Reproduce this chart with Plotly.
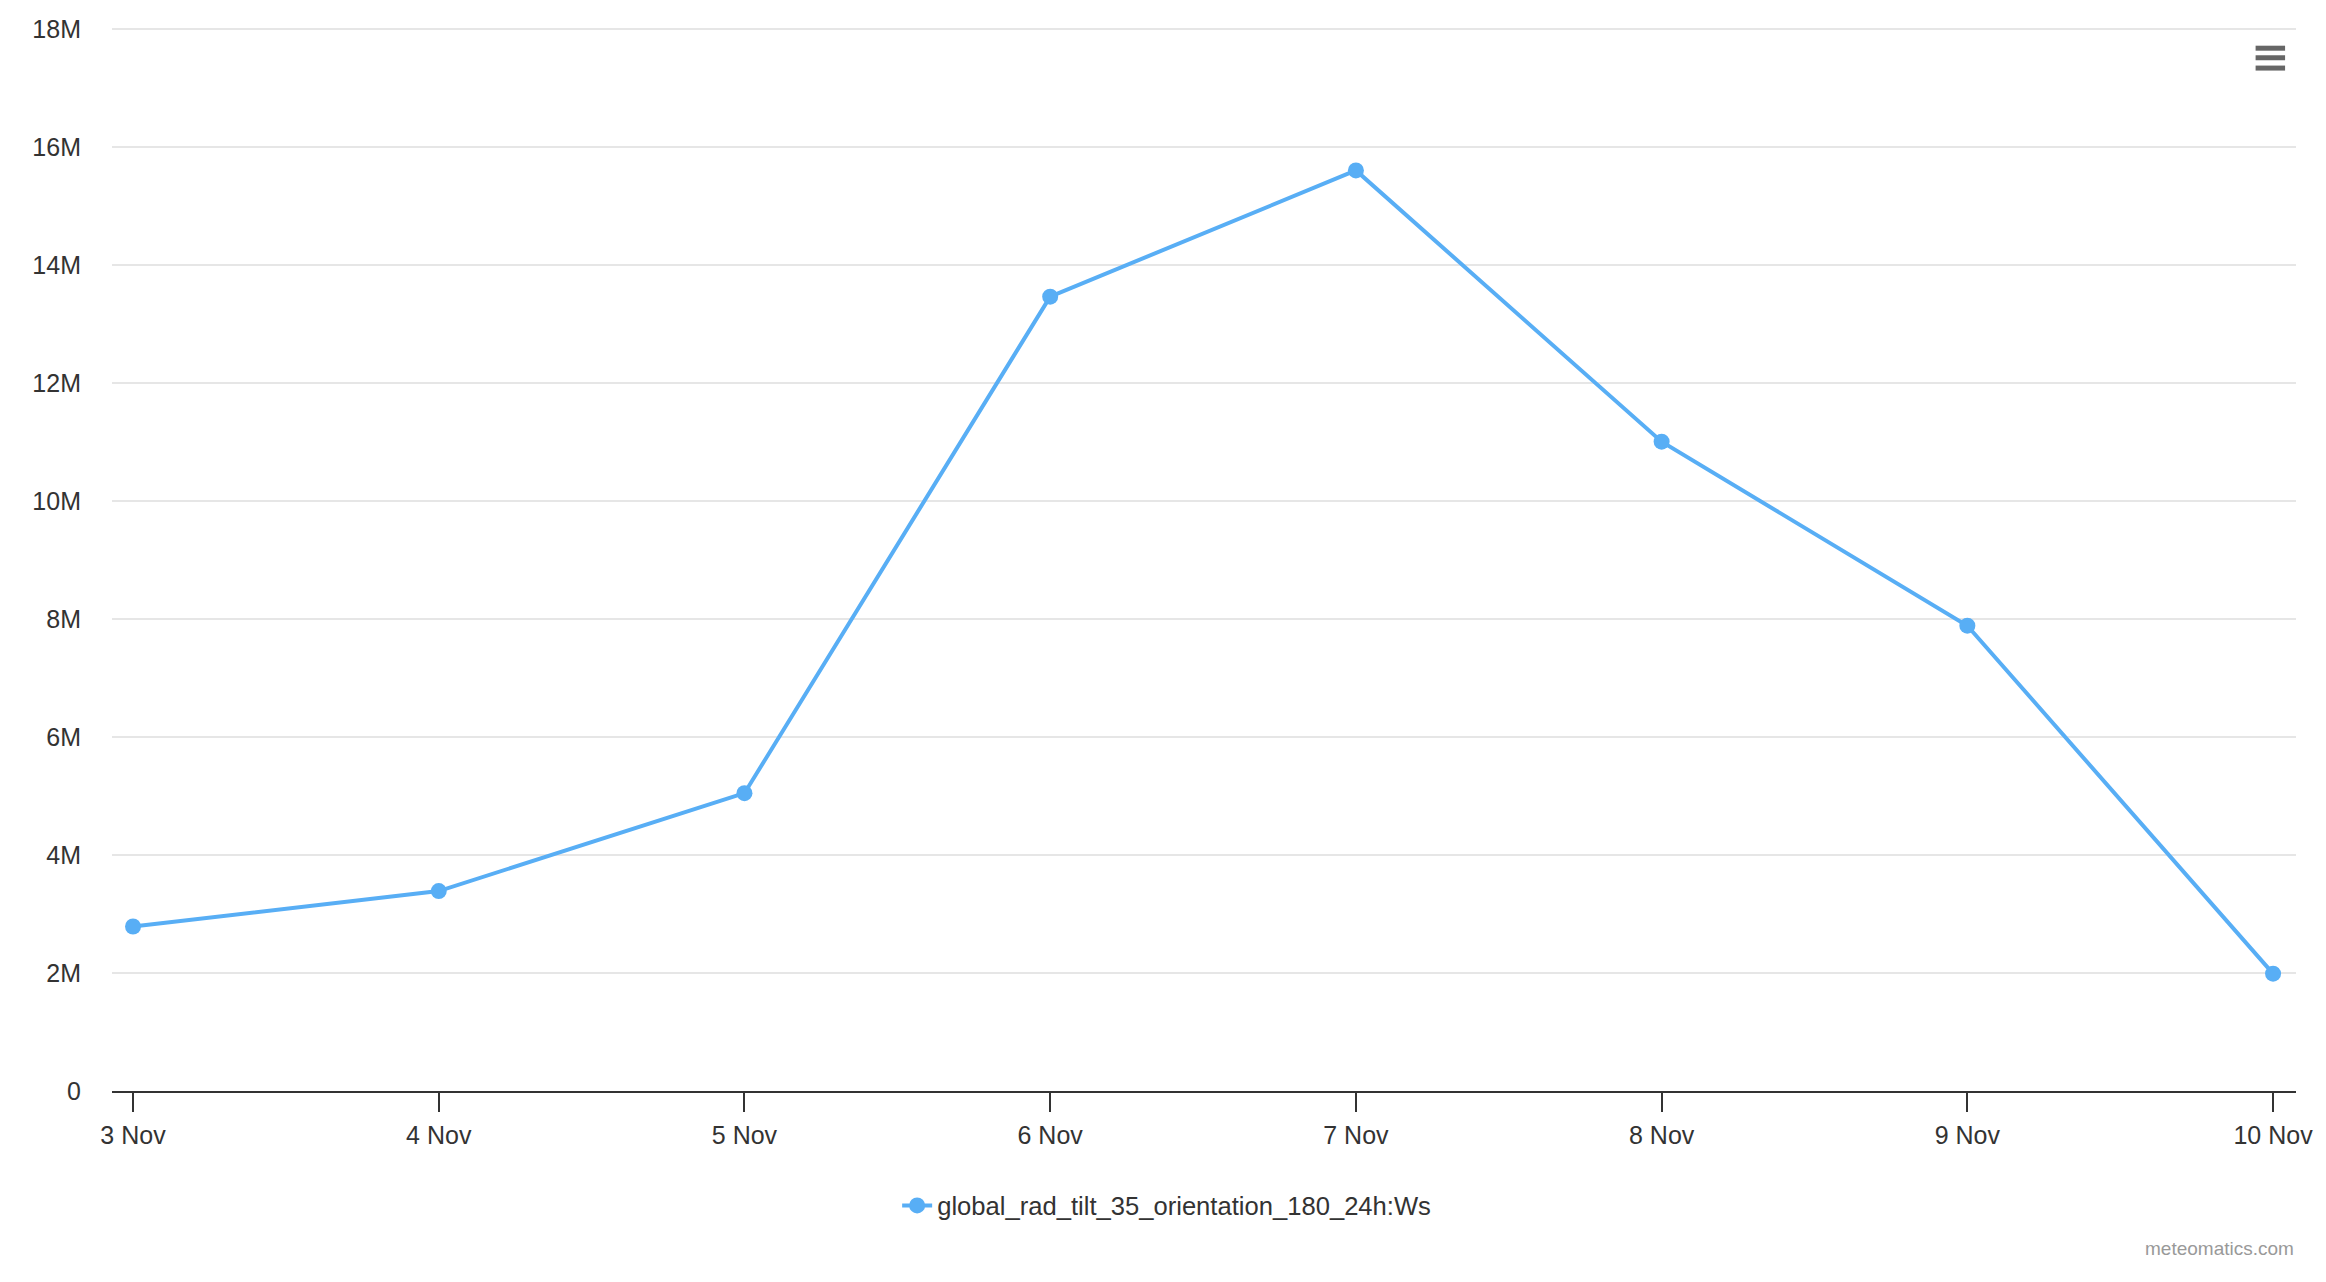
import plotly.graph_objects as go
import pandas as pd

# ---- data ----
dates = ["2023-11-03", "2023-11-04", "2023-11-05", "2023-11-06",
         "2023-11-07", "2023-11-08", "2023-11-09", "2023-11-10"]
values = [2.79e6, 3.39e6, 5.05e6, 13.47e6, 15.61e6, 11.01e6, 7.89e6, 1.99e6]
series_name = "global_rad_tilt_35_orientation_180_24h:Ws"
x_tick_labels = ["3 Nov", "4 Nov", "5 Nov", "6 Nov", "7 Nov", "8 Nov", "9 Nov", "10 Nov"]
y_tick_vals = [0, 2e6, 4e6, 6e6, 8e6, 10e6, 12e6, 14e6, 16e6, 18e6]
y_tick_labels = ["0", "2M", "4M", "6M", "8M", "10M", "12M", "14M", "16M", "18M"]

FONT = "Liberation Sans, Arial, Helvetica, sans-serif"
BLUE = "#58aef5"

x = pd.to_datetime(dates)
x_min = x[0] - pd.Timedelta(hours=1.65)
x_max = x[-1] + pd.Timedelta(hours=1.8)

fig = go.Figure()
fig.add_trace(go.Scatter(
    x=x, y=values, mode="lines+markers", name=series_name,
    line=dict(color=BLUE, width=4),
    marker=dict(color=BLUE, size=16),
    showlegend=True,
))

# page body has an 8px default margin; compensate so positions match
fig.update_layout(
    width=2310, height=1266,
    margin=dict(l=104, r=22, t=20, b=183, autoexpand=False),
    paper_bgcolor="white", plot_bgcolor="white",
    font=dict(family=FONT, size=25, color="#333333"),
    xaxis=dict(
        range=[x_min, x_max], type="date", automargin=False,
        tickvals=x, ticktext=x_tick_labels,
        showgrid=False, zeroline=False,
        showline=True, linecolor="#333333", linewidth=2,
        ticks="outside", ticklen=19, tickwidth=2, tickcolor="#333333",
        ticklabelstandoff=2,
        tickfont=dict(family=FONT, size=25, color="#333333"),
    ),
    yaxis=dict(
        range=[0, y_tick_vals[-1] * 1.0014], automargin=False,
        tickvals=y_tick_vals, ticktext=y_tick_labels,
        showgrid=True, gridcolor="#e6e6e6", gridwidth=2,
        zeroline=False, showline=False,
        ticks="outside", ticklen=25, tickcolor="rgba(0,0,0,0)",
        tickfont=dict(family=FONT, size=25, color="#333333"),
    ),
    legend=dict(
        orientation="h", x=0.3595, xanchor="left", y=-0.108, yanchor="middle",
        font=dict(family=FONT, size=25.6, color="#333333"),
        bgcolor="rgba(0,0,0,0)",
    ),
    showlegend=True,
)

fig.add_annotation(
    text="meteomatics.com", xref="paper", yref="paper",
    x=1.0, y=-0.148, xanchor="right", yanchor="middle",
    showarrow=False, font=dict(family=FONT, size=19, color="#999999"),
)

# hamburger menu icon
for yy in [0.981, 0.972, 0.9623]:
    fig.add_shape(type="line", xref="paper", yref="paper",
                  x0=0.9815, x1=0.9950, y0=yy, y1=yy,
                  line=dict(color="#666666", width=5))

fig.write_html("out.html", config={"displayModeBar": False})
